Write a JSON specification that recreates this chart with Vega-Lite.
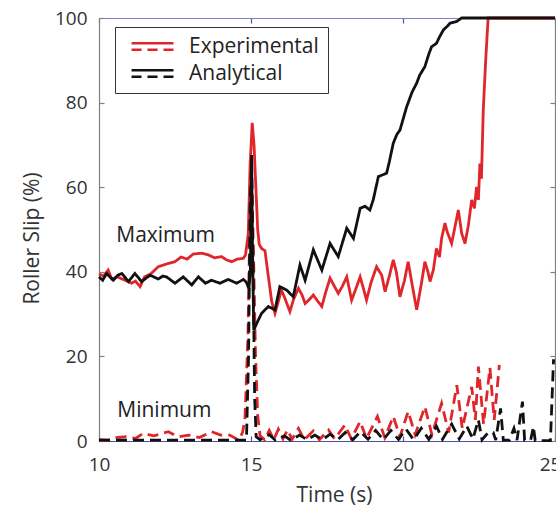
{
  "$schema": "https://vega.github.io/schema/vega-lite/v6.json",
  "width": 456,
  "height": 423,
  "autosize": "none",
  "padding": {"left": 99, "top": 18, "right": 1, "bottom": 73},
  "background": "white",
  "config": {
    "view": {"stroke": null},
    "font": "Open Sans",
    "axis": {"grid": false, "labelFont": "Open Sans", "titleFont": "Open Sans", "labelFontSize": 19, "titleFontSize": 21, "labelColor": "#333", "titleColor": "#333", "titleFontWeight": "normal", "tickSize": -5, "domainWidth": 1.2, "tickWidth": 1.2, "labelFlush": false}
  },
  "datasets": {
    "lines": [
      {"m":"Experimental","k":"Maximum","t":10.0,"v":39.5},{"m":"Experimental","k":"Maximum","t":10.15,"v":39},{"m":"Experimental","k":"Maximum","t":10.3,"v":40.4},{"m":"Experimental","k":"Maximum","t":10.42,"v":38.3},{"m":"Experimental","k":"Maximum","t":10.6,"v":38.8},{"m":"Experimental","k":"Maximum","t":10.86,"v":38},{"m":"Experimental","k":"Maximum","t":11.07,"v":37.3},{"m":"Experimental","k":"Maximum","t":11.2,"v":37.8},{"m":"Experimental","k":"Maximum","t":11.35,"v":36.5},{"m":"Experimental","k":"Maximum","t":11.5,"v":38.8},{"m":"Experimental","k":"Maximum","t":11.7,"v":39.5},{"m":"Experimental","k":"Maximum","t":11.95,"v":41.2},{"m":"Experimental","k":"Maximum","t":12.2,"v":41.8},{"m":"Experimental","k":"Maximum","t":12.5,"v":42.4},{"m":"Experimental","k":"Maximum","t":12.7,"v":43.5},{"m":"Experimental","k":"Maximum","t":12.9,"v":43},{"m":"Experimental","k":"Maximum","t":13.1,"v":44.2},{"m":"Experimental","k":"Maximum","t":13.38,"v":44.4},{"m":"Experimental","k":"Maximum","t":13.6,"v":44},{"m":"Experimental","k":"Maximum","t":13.8,"v":43.3},{"m":"Experimental","k":"Maximum","t":14.03,"v":43.6},{"m":"Experimental","k":"Maximum","t":14.2,"v":42.8},{"m":"Experimental","k":"Maximum","t":14.37,"v":42.4},{"m":"Experimental","k":"Maximum","t":14.55,"v":43},{"m":"Experimental","k":"Maximum","t":14.75,"v":43.2},{"m":"Experimental","k":"Maximum","t":14.82,"v":44},{"m":"Experimental","k":"Maximum","t":14.91,"v":49},{"m":"Experimental","k":"Maximum","t":14.97,"v":65},{"m":"Experimental","k":"Maximum","t":15.04,"v":75.2},{"m":"Experimental","k":"Maximum","t":15.1,"v":70},{"m":"Experimental","k":"Maximum","t":15.16,"v":60},{"m":"Experimental","k":"Maximum","t":15.22,"v":50},{"m":"Experimental","k":"Maximum","t":15.27,"v":46.5},{"m":"Experimental","k":"Maximum","t":15.35,"v":45.5},{"m":"Experimental","k":"Maximum","t":15.46,"v":45},{"m":"Experimental","k":"Maximum","t":15.55,"v":40},{"m":"Experimental","k":"Maximum","t":15.68,"v":33},{"m":"Experimental","k":"Maximum","t":15.79,"v":30.2},{"m":"Experimental","k":"Maximum","t":15.9,"v":33},{"m":"Experimental","k":"Maximum","t":16.0,"v":35.7},{"m":"Experimental","k":"Maximum","t":16.1,"v":34},{"m":"Experimental","k":"Maximum","t":16.28,"v":30.6},{"m":"Experimental","k":"Maximum","t":16.4,"v":33.5},{"m":"Experimental","k":"Maximum","t":16.56,"v":36.1},{"m":"Experimental","k":"Maximum","t":16.68,"v":34.5},{"m":"Experimental","k":"Maximum","t":16.78,"v":32.5},{"m":"Experimental","k":"Maximum","t":16.9,"v":33.3},{"m":"Experimental","k":"Maximum","t":17.05,"v":34.5},{"m":"Experimental","k":"Maximum","t":17.2,"v":33},{"m":"Experimental","k":"Maximum","t":17.33,"v":31.8},{"m":"Experimental","k":"Maximum","t":17.45,"v":35},{"m":"Experimental","k":"Maximum","t":17.6,"v":38.5},{"m":"Experimental","k":"Maximum","t":17.75,"v":36.5},{"m":"Experimental","k":"Maximum","t":17.87,"v":34.9},{"m":"Experimental","k":"Maximum","t":18.0,"v":36.5},{"m":"Experimental","k":"Maximum","t":18.15,"v":38.8},{"m":"Experimental","k":"Maximum","t":18.31,"v":33.3},{"m":"Experimental","k":"Maximum","t":18.45,"v":36},{"m":"Experimental","k":"Maximum","t":18.59,"v":38.8},{"m":"Experimental","k":"Maximum","t":18.7,"v":36},{"m":"Experimental","k":"Maximum","t":18.8,"v":33.3},{"m":"Experimental","k":"Maximum","t":18.95,"v":37.5},{"m":"Experimental","k":"Maximum","t":19.13,"v":41.2},{"m":"Experimental","k":"Maximum","t":19.3,"v":39.2},{"m":"Experimental","k":"Maximum","t":19.41,"v":35.3},{"m":"Experimental","k":"Maximum","t":19.55,"v":39},{"m":"Experimental","k":"Maximum","t":19.68,"v":42.8},{"m":"Experimental","k":"Maximum","t":19.78,"v":40},{"m":"Experimental","k":"Maximum","t":19.9,"v":34.1},{"m":"Experimental","k":"Maximum","t":20.05,"v":38},{"m":"Experimental","k":"Maximum","t":20.17,"v":42.4},{"m":"Experimental","k":"Maximum","t":20.3,"v":37},{"m":"Experimental","k":"Maximum","t":20.45,"v":31},{"m":"Experimental","k":"Maximum","t":20.6,"v":37},{"m":"Experimental","k":"Maximum","t":20.72,"v":42.4},{"m":"Experimental","k":"Maximum","t":20.82,"v":40},{"m":"Experimental","k":"Maximum","t":20.89,"v":37.7},{"m":"Experimental","k":"Maximum","t":21.0,"v":40.5},{"m":"Experimental","k":"Maximum","t":21.1,"v":45.5},{"m":"Experimental","k":"Maximum","t":21.2,"v":43.5},{"m":"Experimental","k":"Maximum","t":21.27,"v":47.9},{"m":"Experimental","k":"Maximum","t":21.38,"v":51.5},{"m":"Experimental","k":"Maximum","t":21.45,"v":49.5},{"m":"Experimental","k":"Maximum","t":21.6,"v":46.7},{"m":"Experimental","k":"Maximum","t":21.72,"v":51},{"m":"Experimental","k":"Maximum","t":21.82,"v":54.6},{"m":"Experimental","k":"Maximum","t":21.93,"v":49.1},{"m":"Experimental","k":"Maximum","t":22.04,"v":46.7},{"m":"Experimental","k":"Maximum","t":22.15,"v":51},{"m":"Experimental","k":"Maximum","t":22.26,"v":57},{"m":"Experimental","k":"Maximum","t":22.35,"v":55},{"m":"Experimental","k":"Maximum","t":22.42,"v":60.1},{"m":"Experimental","k":"Maximum","t":22.48,"v":57},{"m":"Experimental","k":"Maximum","t":22.53,"v":65.6},{"m":"Experimental","k":"Maximum","t":22.58,"v":62},{"m":"Experimental","k":"Maximum","t":22.64,"v":78.2},{"m":"Experimental","k":"Maximum","t":22.72,"v":90},{"m":"Experimental","k":"Maximum","t":22.8,"v":100},{"m":"Experimental","k":"Maximum","t":25,"v":100},

      {"m":"Experimental","k":"Minimum","t":10.0,"v":0.3},{"m":"Experimental","k":"Minimum","t":10.3,"v":0.2},{"m":"Experimental","k":"Minimum","t":10.5,"v":0.8},{"m":"Experimental","k":"Minimum","t":10.9,"v":1.0},{"m":"Experimental","k":"Minimum","t":11.2,"v":0.6},{"m":"Experimental","k":"Minimum","t":11.45,"v":1.8},{"m":"Experimental","k":"Minimum","t":11.8,"v":1.2},{"m":"Experimental","k":"Minimum","t":12.28,"v":2.2},{"m":"Experimental","k":"Minimum","t":12.6,"v":1.0},{"m":"Experimental","k":"Minimum","t":12.95,"v":1.4},{"m":"Experimental","k":"Minimum","t":13.3,"v":0.8},{"m":"Experimental","k":"Minimum","t":13.7,"v":2.2},{"m":"Experimental","k":"Minimum","t":14.0,"v":1.4},{"m":"Experimental","k":"Minimum","t":14.3,"v":1.4},{"m":"Experimental","k":"Minimum","t":14.6,"v":0.2},{"m":"Experimental","k":"Minimum","t":14.72,"v":2},{"m":"Experimental","k":"Minimum","t":14.8,"v":5},{"m":"Experimental","k":"Minimum","t":14.9,"v":25},{"m":"Experimental","k":"Minimum","t":14.97,"v":55},{"m":"Experimental","k":"Minimum","t":15.02,"v":62},{"m":"Experimental","k":"Minimum","t":15.08,"v":45},{"m":"Experimental","k":"Minimum","t":15.15,"v":20},{"m":"Experimental","k":"Minimum","t":15.22,"v":6},{"m":"Experimental","k":"Minimum","t":15.3,"v":1.2},{"m":"Experimental","k":"Minimum","t":15.45,"v":0.3},{"m":"Experimental","k":"Minimum","t":15.6,"v":2.5},{"m":"Experimental","k":"Minimum","t":15.75,"v":0.3},{"m":"Experimental","k":"Minimum","t":15.9,"v":2.8},{"m":"Experimental","k":"Minimum","t":16.05,"v":0.5},{"m":"Experimental","k":"Minimum","t":16.2,"v":2.6},{"m":"Experimental","k":"Minimum","t":16.35,"v":0.4},{"m":"Experimental","k":"Minimum","t":16.56,"v":3},{"m":"Experimental","k":"Minimum","t":16.75,"v":0.3},{"m":"Experimental","k":"Minimum","t":17.05,"v":2.4},{"m":"Experimental","k":"Minimum","t":17.25,"v":0.3},{"m":"Experimental","k":"Minimum","t":17.55,"v":2.6},{"m":"Experimental","k":"Minimum","t":17.75,"v":0.5},{"m":"Experimental","k":"Minimum","t":18.09,"v":3.8},{"m":"Experimental","k":"Minimum","t":18.3,"v":0.5},{"m":"Experimental","k":"Minimum","t":18.59,"v":4.6},{"m":"Experimental","k":"Minimum","t":18.8,"v":0.6},{"m":"Experimental","k":"Minimum","t":19.16,"v":5.8},{"m":"Experimental","k":"Minimum","t":19.4,"v":0.8},{"m":"Experimental","k":"Minimum","t":19.68,"v":5.8},{"m":"Experimental","k":"Minimum","t":19.9,"v":1},{"m":"Experimental","k":"Minimum","t":20.17,"v":7},{"m":"Experimental","k":"Minimum","t":20.4,"v":1.5},{"m":"Experimental","k":"Minimum","t":20.72,"v":8.1},{"m":"Experimental","k":"Minimum","t":20.95,"v":1.5},{"m":"Experimental","k":"Minimum","t":21.27,"v":8.9},{"m":"Experimental","k":"Minimum","t":21.5,"v":2},{"m":"Experimental","k":"Minimum","t":21.77,"v":13.2},{"m":"Experimental","k":"Minimum","t":21.95,"v":3},{"m":"Experimental","k":"Minimum","t":22.26,"v":12.8},{"m":"Experimental","k":"Minimum","t":22.38,"v":5},{"m":"Experimental","k":"Minimum","t":22.48,"v":17.6},{"m":"Experimental","k":"Minimum","t":22.65,"v":4},{"m":"Experimental","k":"Minimum","t":22.86,"v":17.3},{"m":"Experimental","k":"Minimum","t":23.0,"v":5},{"m":"Experimental","k":"Minimum","t":23.17,"v":18},

      {"m":"Analytical","k":"Maximum","t":10.0,"v":38.8},{"m":"Analytical","k":"Maximum","t":10.12,"v":38},{"m":"Analytical","k":"Maximum","t":10.25,"v":39.6},{"m":"Analytical","k":"Maximum","t":10.47,"v":38},{"m":"Analytical","k":"Maximum","t":10.62,"v":39.2},{"m":"Analytical","k":"Maximum","t":10.75,"v":39.6},{"m":"Analytical","k":"Maximum","t":10.97,"v":37.7},{"m":"Analytical","k":"Maximum","t":11.18,"v":39.6},{"m":"Analytical","k":"Maximum","t":11.4,"v":37.7},{"m":"Analytical","k":"Maximum","t":11.55,"v":38.5},{"m":"Analytical","k":"Maximum","t":11.68,"v":39.2},{"m":"Analytical","k":"Maximum","t":11.95,"v":38.3},{"m":"Analytical","k":"Maximum","t":12.1,"v":39},{"m":"Analytical","k":"Maximum","t":12.22,"v":38.8},{"m":"Analytical","k":"Maximum","t":12.5,"v":37.3},{"m":"Analytical","k":"Maximum","t":12.77,"v":38.8},{"m":"Analytical","k":"Maximum","t":13.05,"v":36.9},{"m":"Analytical","k":"Maximum","t":13.27,"v":38.8},{"m":"Analytical","k":"Maximum","t":13.5,"v":37.3},{"m":"Analytical","k":"Maximum","t":13.7,"v":38},{"m":"Analytical","k":"Maximum","t":13.98,"v":37.3},{"m":"Analytical","k":"Maximum","t":14.25,"v":38.2},{"m":"Analytical","k":"Maximum","t":14.53,"v":37.3},{"m":"Analytical","k":"Maximum","t":14.75,"v":38.2},{"m":"Analytical","k":"Maximum","t":14.85,"v":37.5},{"m":"Analytical","k":"Maximum","t":14.93,"v":36},{"m":"Analytical","k":"Maximum","t":14.98,"v":40},{"m":"Analytical","k":"Maximum","t":15.02,"v":67.6},{"m":"Analytical","k":"Maximum","t":15.05,"v":45},{"m":"Analytical","k":"Maximum","t":15.09,"v":26.2},{"m":"Analytical","k":"Maximum","t":15.2,"v":28},{"m":"Analytical","k":"Maximum","t":15.35,"v":30.2},{"m":"Analytical","k":"Maximum","t":15.57,"v":31.8},{"m":"Analytical","k":"Maximum","t":15.79,"v":31},{"m":"Analytical","k":"Maximum","t":15.95,"v":36.5},{"m":"Analytical","k":"Maximum","t":16.17,"v":35.7},{"m":"Analytical","k":"Maximum","t":16.39,"v":34.1},{"m":"Analytical","k":"Maximum","t":16.61,"v":41.6},{"m":"Analytical","k":"Maximum","t":16.78,"v":38},{"m":"Analytical","k":"Maximum","t":17.05,"v":45.2},{"m":"Analytical","k":"Maximum","t":17.33,"v":40.4},{"m":"Analytical","k":"Maximum","t":17.6,"v":46.7},{"m":"Analytical","k":"Maximum","t":17.87,"v":43.6},{"m":"Analytical","k":"Maximum","t":18.15,"v":50.3},{"m":"Analytical","k":"Maximum","t":18.37,"v":47.9},{"m":"Analytical","k":"Maximum","t":18.59,"v":55},{"m":"Analytical","k":"Maximum","t":18.75,"v":55.5},{"m":"Analytical","k":"Maximum","t":18.91,"v":54.6},{"m":"Analytical","k":"Maximum","t":19.02,"v":57},{"m":"Analytical","k":"Maximum","t":19.19,"v":62.5},{"m":"Analytical","k":"Maximum","t":19.46,"v":63.3},{"m":"Analytical","k":"Maximum","t":19.55,"v":66},{"m":"Analytical","k":"Maximum","t":19.68,"v":70.4},{"m":"Analytical","k":"Maximum","t":19.8,"v":72.5},{"m":"Analytical","k":"Maximum","t":19.9,"v":73.5},{"m":"Analytical","k":"Maximum","t":20.0,"v":76},{"m":"Analytical","k":"Maximum","t":20.12,"v":79},{"m":"Analytical","k":"Maximum","t":20.3,"v":82.5},{"m":"Analytical","k":"Maximum","t":20.45,"v":84.6},{"m":"Analytical","k":"Maximum","t":20.55,"v":86.5},{"m":"Analytical","k":"Maximum","t":20.72,"v":88.5},{"m":"Analytical","k":"Maximum","t":20.85,"v":91.5},{"m":"Analytical","k":"Maximum","t":20.94,"v":93.2},{"m":"Analytical","k":"Maximum","t":21.1,"v":94},{"m":"Analytical","k":"Maximum","t":21.2,"v":95.5},{"m":"Analytical","k":"Maximum","t":21.33,"v":97.2},{"m":"Analytical","k":"Maximum","t":21.45,"v":98},{"m":"Analytical","k":"Maximum","t":21.55,"v":98.8},{"m":"Analytical","k":"Maximum","t":21.77,"v":99.2},{"m":"Analytical","k":"Maximum","t":21.93,"v":100},{"m":"Analytical","k":"Maximum","t":25,"v":100},

      {"m":"Analytical","k":"Minimum","t":10.0,"v":0.2},{"m":"Analytical","k":"Minimum","t":14.85,"v":0.2},{"m":"Analytical","k":"Minimum","t":14.92,"v":20},{"m":"Analytical","k":"Minimum","t":14.97,"v":55},{"m":"Analytical","k":"Minimum","t":15.02,"v":66},{"m":"Analytical","k":"Minimum","t":15.07,"v":40},{"m":"Analytical","k":"Minimum","t":15.12,"v":10},{"m":"Analytical","k":"Minimum","t":15.17,"v":1},{"m":"Analytical","k":"Minimum","t":15.3,"v":0.3},{"m":"Analytical","k":"Minimum","t":15.6,"v":1.5},{"m":"Analytical","k":"Minimum","t":15.8,"v":0.2},{"m":"Analytical","k":"Minimum","t":16.1,"v":1.2},{"m":"Analytical","k":"Minimum","t":16.3,"v":0.2},{"m":"Analytical","k":"Minimum","t":16.6,"v":1.4},{"m":"Analytical","k":"Minimum","t":16.85,"v":0.3},{"m":"Analytical","k":"Minimum","t":17.1,"v":1.4},{"m":"Analytical","k":"Minimum","t":17.35,"v":0.3},{"m":"Analytical","k":"Minimum","t":17.6,"v":1.6},{"m":"Analytical","k":"Minimum","t":17.85,"v":0.3},{"m":"Analytical","k":"Minimum","t":18.1,"v":2},{"m":"Analytical","k":"Minimum","t":18.35,"v":0.3},{"m":"Analytical","k":"Minimum","t":18.6,"v":2.2},{"m":"Analytical","k":"Minimum","t":18.85,"v":0.4},{"m":"Analytical","k":"Minimum","t":19.1,"v":2.5},{"m":"Analytical","k":"Minimum","t":19.35,"v":0.3},{"m":"Analytical","k":"Minimum","t":19.6,"v":2.5},{"m":"Analytical","k":"Minimum","t":19.85,"v":0.4},{"m":"Analytical","k":"Minimum","t":20.1,"v":2.8},{"m":"Analytical","k":"Minimum","t":20.35,"v":0.3},{"m":"Analytical","k":"Minimum","t":20.6,"v":3},{"m":"Analytical","k":"Minimum","t":20.85,"v":0.4},{"m":"Analytical","k":"Minimum","t":21.1,"v":3.5},{"m":"Analytical","k":"Minimum","t":21.3,"v":0.4},{"m":"Analytical","k":"Minimum","t":21.6,"v":4},{"m":"Analytical","k":"Minimum","t":21.85,"v":0.5},{"m":"Analytical","k":"Minimum","t":22.1,"v":3.5},{"m":"Analytical","k":"Minimum","t":22.3,"v":0.5},{"m":"Analytical","k":"Minimum","t":22.48,"v":5},{"m":"Analytical","k":"Minimum","t":22.6,"v":0.3},{"m":"Analytical","k":"Minimum","t":22.8,"v":2},{"m":"Analytical","k":"Minimum","t":22.97,"v":2},{"m":"Analytical","k":"Minimum","t":23.05,"v":0.2},{"m":"Analytical","k":"Minimum","t":23.21,"v":7.7},{"m":"Analytical","k":"Minimum","t":23.3,"v":0.2},{"m":"Analytical","k":"Minimum","t":23.5,"v":0.2},{"m":"Analytical","k":"Minimum","t":23.65,"v":3},{"m":"Analytical","k":"Minimum","t":23.75,"v":0.2},{"m":"Analytical","k":"Minimum","t":23.93,"v":9.3},{"m":"Analytical","k":"Minimum","t":24.0,"v":0.2},{"m":"Analytical","k":"Minimum","t":24.2,"v":0.2},{"m":"Analytical","k":"Minimum","t":24.29,"v":3.4},{"m":"Analytical","k":"Minimum","t":24.35,"v":0.1},{"m":"Analytical","k":"Minimum","t":24.85,"v":0.1},{"m":"Analytical","k":"Minimum","t":24.95,"v":19},{"m":"Analytical","k":"Minimum","t":25,"v":19}
    ],
    "notes": [
      {"label": "Maximum", "t": 12.19, "v": 47.0},
      {"label": "Minimum", "t": 12.15, "v": 5.7}
    ]
  },
  "layer": [
    {
      "data": {"name": "lines"},
      "mark": {"type": "line", "strokeWidth": 2.8, "interpolate": "linear"},
      "encoding": {
        "x": {"field": "t", "type": "quantitative", "scale": {"domain": [10, 25], "nice": false, "zero": false},
          "axis": {"orient": "bottom", "values": [10, 15, 20, 25], "title": "Time (s)", "domainColor": "#4b52a8", "tickColor": "#4b52a8", "labelPadding": 19, "labelOffset": {"condition": {"test": "datum.value == 25", "value": -5}, "value": 0}, "titleX": 235, "titleY": 54, "titleBaseline": "middle", "titleAlign": "center"}},
        "y": {"field": "v", "type": "quantitative", "scale": {"domain": [0, 100], "nice": false},
          "axis": {"orient": "left", "values": [0, 20, 40, 60, 80, 100], "title": "Roller Slip (%)", "domainColor": "#808080", "tickColor": "#808080", "labelPadding": 17, "titleX": -67, "titleY": 220, "titleBaseline": "middle", "titleAlign": "center", "titleAngle": -90}},
        "color": {"field": "m", "type": "nominal", "sort": ["Experimental", "Analytical"],
          "scale": {"domain": ["Experimental", "Analytical"], "range": ["#e0262b", "#111111"]},
          "legend": {"orient": "none", "legendX": 16, "legendY": 9, "title": null, "symbolType": "M-2.33,-0.36H2.33M-2.33,0.36H-1.22M-0.56,0.36H0.56M1.22,0.36H2.33", "symbolSize": 324, "symbolStrokeWidth": 2.5, "symbolOffset": 18, "labelOffset": 26, "labelFont": "Open Sans", "labelFontSize": 21, "labelColor": "#222", "strokeColor": "#333", "fillColor": "white", "padding": 9, "rowPadding": 5}},
        "strokeDash": {"field": "k", "type": "nominal", "scale": {"domain": ["Maximum", "Minimum"], "range": [[1, 0], [11, 6]]}, "legend": null},
        "order": {"field": "t", "type": "quantitative"}
      }
    },
    {
      "data": {"name": "notes"},
      "mark": {"type": "text", "font": "Open Sans", "fontSize": 21, "color": "#222", "align": "center", "baseline": "alphabetic"},
      "encoding": {
        "x": {"field": "t", "type": "quantitative", "axis": {"orient": "top", "values": [10, 15, 20, 25], "labels": false, "title": null, "domainColor": "#7a7fcc", "tickColor": "#4b52a8"}},
        "y": {"field": "v", "type": "quantitative", "axis": {"orient": "right", "values": [0, 20, 40, 60, 80, 100], "labels": false, "title": null, "domainColor": "#808080", "tickColor": "#808080"}},
        "text": {"field": "label", "type": "nominal"}
      }
    }
  ],
  "resolve": {"axis": {"x": "independent", "y": "independent"}}
}
